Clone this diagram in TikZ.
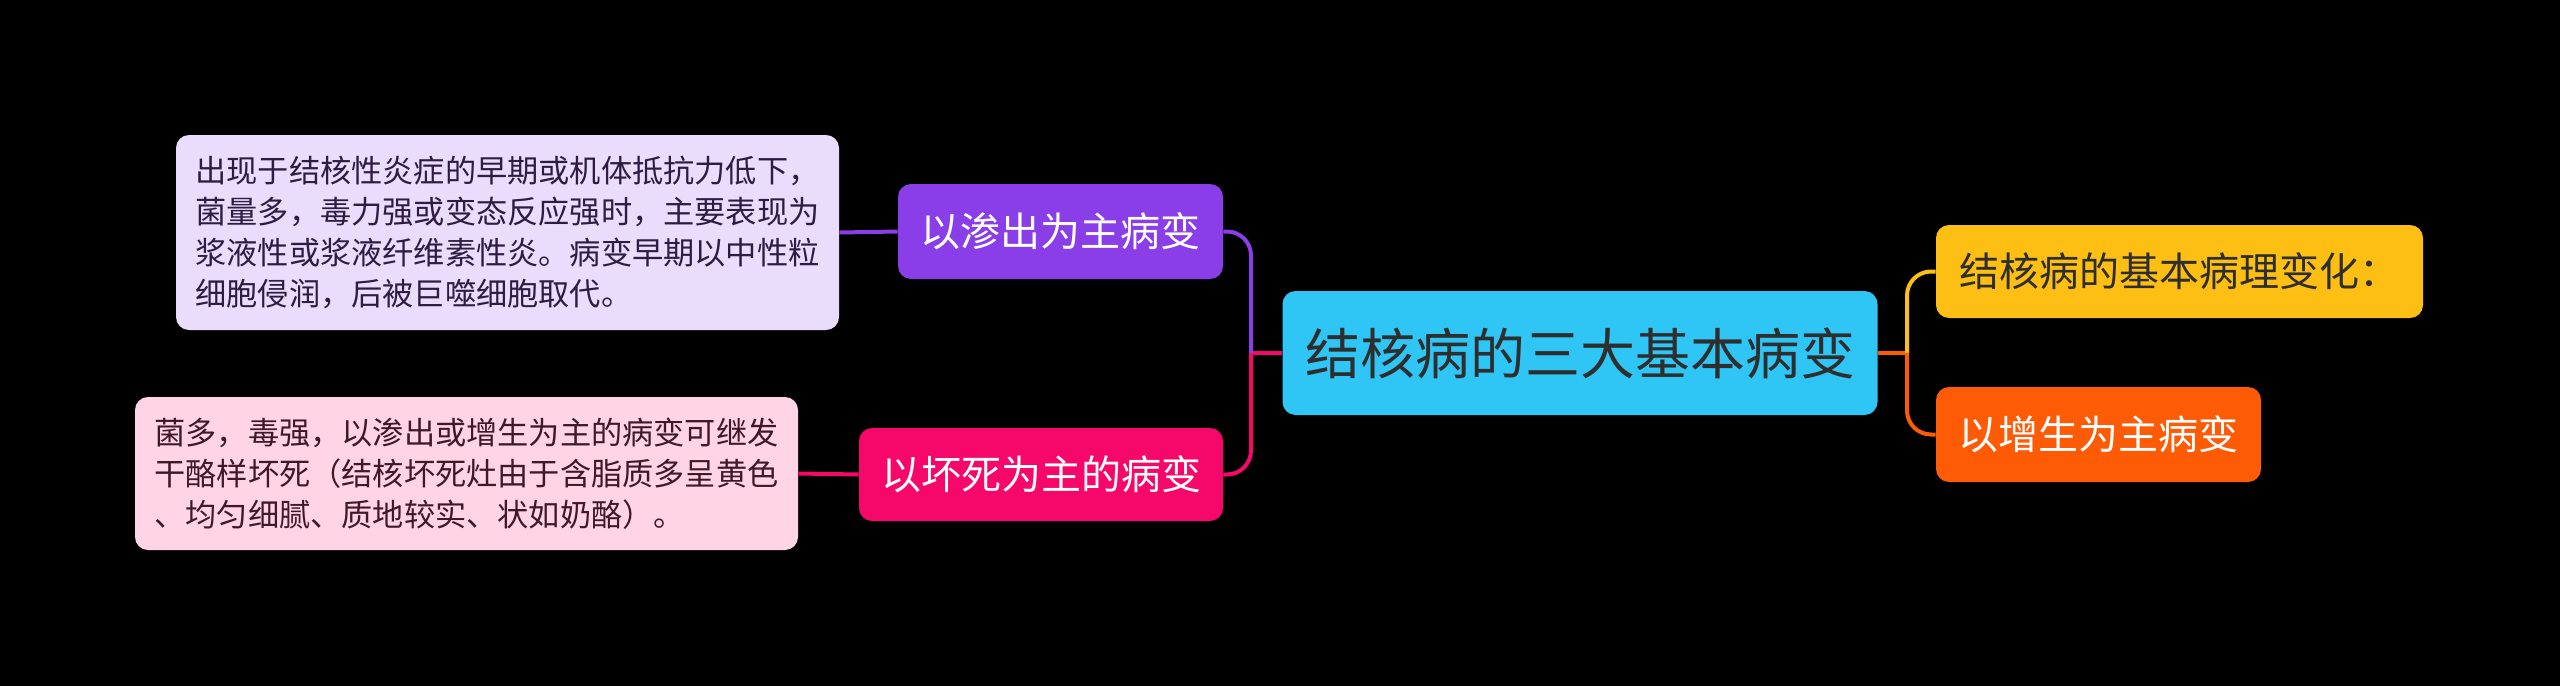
\documentclass[tikz,border=0pt]{standalone}
\usepackage{fontspec}
\usepackage{tikz}
\usetikzlibrary{positioning, calc}
\newfontfamily\cjk{Noto Sans CJK SC}

\definecolor{bgblack}{HTML}{000000}
\definecolor{rootfill}{HTML}{2FC6F5}
\definecolor{darktext}{HTML}{2E2E2E}
\definecolor{yellowfill}{HTML}{FDBF14}
\definecolor{orangefill}{HTML}{FE5B07}
\definecolor{purplefill}{HTML}{8A3EE8}
\definecolor{pinkfill}{HTML}{F6086A}
\definecolor{lavleaf}{HTML}{E9DDFB}
\definecolor{pinkleaf}{HTML}{FFD4E5}
\definecolor{lavtext}{HTML}{2E1C42}
\definecolor{pinktext}{HTML}{3E1A28}

\begin{document}
\begin{tikzpicture}[x=0.5pt, y=-0.5pt,
    box/.style={rounded corners=6.5pt, inner sep=0pt, align=center},
    topic/.style={box, font={\cjk\fontsize{20}{24}\selectfont}, text=white},
    leaf/.style={rounded corners=6.5pt, inner sep=0pt, align=left,
                 font={\cjk\fontsize{15.6}{20.4}\selectfont}},
    link/.style={line width=2pt}]
    \fill[bgblack] (0,0) rectangle (2560,686);
    \useasboundingbox (0,0) rectangle (2560,686);

    % root
    \node[box, fill=rootfill, text=darktext, minimum width=297.5pt, minimum height=62pt,
          font={\cjk\fontsize{27.5}{33}\selectfont}] (root) at (1580,353) {结核病的三大基本病变};

    % right side
    \node[topic, fill=yellowfill, text=darktext, minimum width=243.5pt, minimum height=46.5pt]
        (basic) at (2179.5,271.5) {结核病的基本病理变化：};
    \node[topic, fill=orangefill, minimum width=162.5pt, minimum height=47.5pt]
        (prolif) at (2098.5,434.5) {以增生为主病变};

    % left side
    \node[topic, fill=purplefill, minimum width=162.5pt, minimum height=47.5pt]
        (exud) at (1060.5,231.5) {以渗出为主病变};
    \node[topic, fill=pinkfill, minimum width=182pt, minimum height=46.5pt]
        (necro) at (1041,474.5) {以坏死为主的病变};

    \node[leaf, fill=lavleaf, text=lavtext, minimum width=331.5pt, minimum height=97.5pt]
        (exudnote) at (507.5,232.5) {出现于结核性炎症的早期或机体抵抗力低下，\\
        菌量多，毒力强或变态反应强时，主要表现为\\
        浆液性或浆液纤维素性炎。病变早期以中性粒\\
        细胞侵润，后被巨噬细胞取代。};
    \node[leaf, fill=pinkleaf, text=pinktext, minimum width=331.5pt, minimum height=76.5pt]
        (necronote) at (466.5,473.5) {菌多，毒强，以渗出或增生为主的病变可继发\\
        干酪样坏死（结核坏死灶由于含脂质多呈黄色\\
        、均匀细腻、质地较实、状如奶酪）。};

    % connectors
    \coordinate (lj) at (1251,353);
    \coordinate (rj) at (1907,353);
    \draw[link, pinkfill] (root.west) -- (lj);
    \draw[link, purplefill, rounded corners=12pt] (lj) |- (exud.east);
    \draw[link, pinkfill, rounded corners=12pt] (lj) |- (necro.east);
    \draw[link, orangefill] (root.east) -- (rj);
    \draw[link, yellowfill, rounded corners=12pt] (rj) |- (basic.west);
    \draw[link, orangefill, rounded corners=12pt] (rj) |- (prolif.west);
    \draw[link, purplefill] (exud.west) -- (exudnote.east);
    \draw[link, pinkfill] (necro.west) -- (necronote.east);
\end{tikzpicture}
\end{document}
